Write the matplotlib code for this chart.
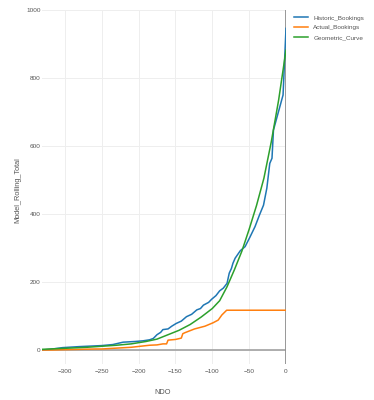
import matplotlib
matplotlib.use("Agg")
import matplotlib.pyplot as plt

# values
historic_ndo = [-331, -320, -303, -280, -250, -235, -221, -205, -194, -185, -180, -175,
                -170, -167, -160, -155, -149, -142, -135, -128, -121, -116, -112, -105,
                -101, -95, -90, -85, -80, -77, -74, -72, -69, -62, -55.5, -48.7, -42,
                -36, -30.5, -26, -22, -19, -17, -4, 0]
historic_total = [0, 2, 7, 10, 13, 16, 23, 25, 27, 30, 34, 45,
                  52, 60, 62, 70, 78, 85, 98, 105, 118, 122, 132, 140,
                  149, 160, 174, 182, 196, 226, 240, 255, 270, 292, 304, 333, 363,
                  397, 426, 476, 549, 564, 647, 750, 946]

actual_ndo = [-331, -317, -300, -258, -250, -210, -185, -175, -167, -162, -160, -150,
              -142, -140, -137, -124, -110, -99, -92, -87, -80.5, 0]
actual_total = [0, 0, 1, 3, 3, 8, 14, 15, 18, 18, 29, 31,
                35, 48, 51, 62, 70, 80, 88, 103, 117, 117]

geo_ndo = [-331, -310, -290, -270, -250, -230, -210, -190, -175, -160, -145, -130,
           -115, -100, -90, -80, -70, -60, -50, -40, -30, -20, -10, 0]
geo_total = [2, 4, 6, 8, 11, 14, 18, 25, 32, 45, 58, 75,
             97, 122, 145, 186, 236, 290, 355, 425, 505, 612, 735, 882]

x_ticks = [-300, -250, -200, -150, -100, -50, 0]
y_ticks = [0, 200, 400, 600, 800, 1000]

plt.rcParams["font.family"] = ["Liberation Sans", "DejaVu Sans"]
plt.rcParams["axes.unicode_minus"] = True

fig = plt.figure(figsize=(3.74, 4.0), dpi=100)
ax = fig.add_axes([42 / 374, 0.091, (286 - 42) / 374, 0.884])

for s in ax.spines.values():
    s.set_visible(False)

ax.set_xlim(-331, 0)
ax.set_ylim(-40, 1000)
ax.set_xticks(x_ticks)
ax.set_yticks(y_ticks)
ax.set_xticklabels(["\u2212300", "\u2212250", "\u2212200", "\u2212150", "\u2212100", "\u221250", "0"])
ax.tick_params(length=0, labelsize=4.6, labelcolor="#555555")
ax.tick_params(axis="x", pad=4)
ax.tick_params(axis="y", pad=1)
ax.grid(True, color="#eeeeee", lw=0.7, zorder=0)
ax.set_axisbelow(True)

ax.axhline(0, color="#a8a8a8", lw=1.3, zorder=1)
ax.axvline(0, color="#909090", lw=1.3, zorder=1)

ax.plot(historic_ndo, historic_total, color="#1f77b4", lw=1.1, label="Historic_Bookings", zorder=3)
ax.plot(actual_ndo, actual_total, color="#ff7f0e", lw=1.1, label="Actual_Bookings", zorder=3)
ax.plot(geo_ndo, geo_total, color="#2ca02c", lw=1.1, label="Geometric_Curve", zorder=3)

fig.text(163 / 374, 1 - 393 / 400, "NDO", fontsize=5.3, color="#555555", ha="center", va="center")
fig.text(18 / 374, 1 - 190 / 400, "Model_Rolling_Total", fontsize=5.3, color="#555555",
         ha="center", va="center", rotation=90)

ax.legend(loc="upper left", bbox_to_anchor=(291 / 374, 1 - 12 / 400),
          bbox_transform=fig.transFigure, frameon=False, fontsize=4.6,
          handlelength=2.1, handletextpad=0.9, labelspacing=0.65, borderpad=0,
          labelcolor="#555555")

fig.savefig("out.png", dpi=100)
